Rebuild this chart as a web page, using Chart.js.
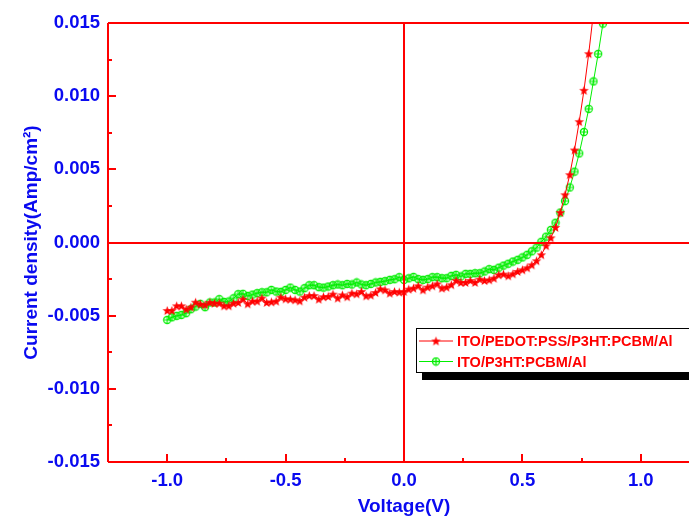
<!DOCTYPE html>
<html>
<head>
<meta charset="utf-8">
<script src="https://cdn.jsdelivr.net/npm/chart.js@4.4.0/dist/chart.umd.min.js"></script>
<style>
  html, body { margin: 0; padding: 0; background: #fff; overflow: hidden; }
  #wrap { width: 689px; height: 520px; overflow: hidden; }
</style>
</head>
<body>
<div id="wrap"><canvas id="c" width="700" height="520"></canvas></div>
<script>
// J-V data (voltage in V, current density in A/cm2)
const voltage = [
  -1.00, -0.98, -0.96, -0.94, -0.92, -0.90, -0.88, -0.86, -0.84, -0.82,
  -0.80, -0.78, -0.76, -0.74, -0.72, -0.70, -0.68, -0.66, -0.64, -0.62,
  -0.60, -0.58, -0.56, -0.54, -0.52, -0.50, -0.48, -0.46, -0.44, -0.42,
  -0.40, -0.38, -0.36, -0.34, -0.32, -0.30, -0.28, -0.26, -0.24, -0.22,
  -0.20, -0.18, -0.16, -0.14, -0.12, -0.10, -0.08, -0.06, -0.04, -0.02,
   0.00,  0.02,  0.04,  0.06,  0.08,  0.10,  0.12,  0.14,  0.16,  0.18,
   0.20,  0.22,  0.24,  0.26,  0.28,  0.30,  0.32,  0.34,  0.36,  0.38,
   0.40,  0.42,  0.44,  0.46,  0.48,  0.50,  0.52,  0.54,  0.56,  0.58,
   0.60,  0.62,  0.64,  0.66,  0.68,  0.70,  0.72,  0.74,  0.76,  0.78,
   0.80,  0.82,  0.84
];

const jPedot = [
  -0.00465, -0.00465, -0.00433, -0.00433, -0.00456, -0.00442, -0.00408, -0.00421, -0.00426, -0.00410,
  -0.00415, -0.00415, -0.00433, -0.00433, -0.00415, -0.00410, -0.00387, -0.00419, -0.00401, -0.00401,
  -0.00380, -0.00410, -0.00406, -0.00401, -0.00374, -0.00385, -0.00387, -0.00392, -0.00399, -0.00374,
  -0.00363, -0.00363, -0.00387, -0.00371, -0.00369, -0.00353, -0.00380, -0.00358, -0.00371, -0.00346,
  -0.00351, -0.00335, -0.00365, -0.00360, -0.00342, -0.00317, -0.00324, -0.00346, -0.00335, -0.00339,
  -0.00335, -0.00319, -0.00312, -0.00296, -0.00324, -0.00305, -0.00296, -0.00283, -0.00312, -0.00305,
  -0.00289, -0.00260, -0.00273, -0.00273, -0.00260, -0.00273, -0.00251, -0.00260, -0.00255, -0.00244,
  -0.00221, -0.00216, -0.00228, -0.00214, -0.00198, -0.00187, -0.00173, -0.00153, -0.00125, -0.00084,
  -0.00022,  0.00032,  0.00103,  0.00205,  0.00326,  0.00463,  0.00632,  0.00826,  0.01040,  0.01290,
   0.01570
];

const jPlain = [
  -0.00529, -0.00511, -0.00501, -0.00495, -0.00483, -0.00456, -0.00438, -0.00419, -0.00442, -0.00410,
  -0.00410, -0.00387, -0.00406, -0.00403, -0.00381, -0.00353, -0.00351, -0.00365, -0.00356, -0.00346,
  -0.00340, -0.00340, -0.00324, -0.00335, -0.00337, -0.00324, -0.00308, -0.00324, -0.00335, -0.00312,
  -0.00292, -0.00292, -0.00305, -0.00308, -0.00301, -0.00292, -0.00287, -0.00292, -0.00283, -0.00287,
  -0.00273, -0.00287, -0.00292, -0.00283, -0.00273, -0.00269, -0.00264, -0.00255, -0.00251, -0.00237,
  -0.00255, -0.00245, -0.00235, -0.00250, -0.00255, -0.00250, -0.00237, -0.00237, -0.00244, -0.00244,
  -0.00228, -0.00221, -0.00232, -0.00214, -0.00214, -0.00210, -0.00210, -0.00198, -0.00182, -0.00187,
  -0.00172, -0.00158, -0.00145, -0.00130, -0.00118, -0.00102, -0.00084, -0.00060, -0.00035,  0.00005,
   0.00040,  0.00086,  0.00135,  0.00205,  0.00283,  0.00376,  0.00484,  0.00609,  0.00755,  0.00913,
   0.01101,  0.01289,  0.01496
];

const seriesLabels = ["ITO/PEDOT:PSS/P3HT:PCBM/Al", "ITO/P3HT:PCBM/Al"];
const xTickValues = [-1.0, -0.5, 0.0, 0.5, 1.0];
const xMinorTicks = [-0.75, -0.25, 0.25, 0.75];
const yTickValues = [-0.015, -0.010, -0.005, 0.000, 0.005, 0.010, 0.015];
const yMinorTicks = [-0.0125, -0.0075, -0.0025, 0.0025, 0.0075, 0.0125];

const red = "#ff0000";
const green = "#00ee00";
const blue = "#0a0af0";
const fontFamily = '"Liberation Sans", Arial, sans-serif';

function starMarker(color) {
  const c = document.createElement("canvas");
  c.width = 11; c.height = 11;
  const g = c.getContext("2d");
  g.fillStyle = color;
  g.beginPath();
  for (let i = 0; i < 10; i++) {
    const r = i % 2 ? 2.1 : 5;
    const a = -Math.PI / 2 + i * Math.PI / 5;
    g.lineTo(5.5 + r * Math.cos(a), 5.9 + r * Math.sin(a));
  }
  g.closePath();
  g.fill();
  return c;
}

function circlePlusMarker(color) {
  const c = document.createElement("canvas");
  c.width = 10; c.height = 10;
  const g = c.getContext("2d");
  g.strokeStyle = color;
  g.lineWidth = 1.2;
  g.beginPath(); g.arc(5, 5, 3.6, 0, Math.PI * 2); g.stroke();
  g.beginPath();
  g.moveTo(1.5, 5); g.lineTo(8.5, 5);
  g.moveTo(5, 1.5); g.lineTo(5, 8.5);
  g.stroke();
  return c;
}

const toPoints = (ys) => ys.map((y, i) => ({ x: voltage[i], y: y }));

// frame, origin lines, inward ticks and the boxed legend
const decor = {
  id: "decor",
  afterDatasetsDraw(chart) {
    const { ctx, chartArea: a, scales: { x, y } } = chart;
    ctx.save();
    ctx.strokeStyle = red;
    ctx.lineWidth = 2;
    const x0 = Math.round(x.getPixelForValue(0));
    const y0 = Math.round(y.getPixelForValue(0));
    ctx.beginPath();
    ctx.moveTo(x0, a.top); ctx.lineTo(x0, a.bottom);
    ctx.moveTo(a.left, y0); ctx.lineTo(a.right, y0);
    ctx.moveTo(a.left, a.top); ctx.lineTo(a.right, a.top);
    ctx.moveTo(a.left, a.top); ctx.lineTo(a.left, a.bottom);
    ctx.moveTo(a.left, a.bottom); ctx.lineTo(a.right, a.bottom);
    xTickValues.forEach(v => {
      const px = Math.round(x.getPixelForValue(v));
      ctx.moveTo(px, a.bottom); ctx.lineTo(px, a.bottom - 8);
    });
    xMinorTicks.forEach(v => {
      const px = Math.round(x.getPixelForValue(v));
      ctx.moveTo(px, a.bottom); ctx.lineTo(px, a.bottom - 4);
    });
    yTickValues.forEach(v => {
      const py = Math.round(y.getPixelForValue(v));
      ctx.moveTo(a.left, py); ctx.lineTo(a.left + 8, py);
    });
    yMinorTicks.forEach(v => {
      const py = Math.round(y.getPixelForValue(v));
      ctx.moveTo(a.left, py); ctx.lineTo(a.left + 4, py);
    });
    ctx.stroke();

    // legend box with drop shadow
    const bx = 416, by = 328, bw = 290, bh = 44;
    ctx.fillStyle = "#000";
    ctx.fillRect(bx + 6, by + bh, bw, 8);
    ctx.fillStyle = "#fff";
    ctx.fillRect(bx, by, bw, bh);
    ctx.strokeStyle = "#000";
    ctx.lineWidth = 1;
    ctx.strokeRect(bx + 0.5, by + 0.5, bw, bh);

    ctx.font = "bold 14.5px " + fontFamily;
    ctx.textBaseline = "middle";
    chart.data.datasets.forEach((ds, i) => {
      const ry = by + 13 + i * 20.5;
      ctx.strokeStyle = ds.borderColor;
      ctx.lineWidth = 1;
      ctx.beginPath();
      ctx.moveTo(bx + 3, ry); ctx.lineTo(bx + 37, ry);
      ctx.stroke();
      const m = ds.pointStyle;
      ctx.drawImage(m, bx + 20 - m.width / 2, ry - m.height / 2);
      ctx.fillStyle = red;
      ctx.fillText(ds.label, bx + 41, ry + 1);
    });
    ctx.restore();
  }
};

Chart.defaults.font.family = fontFamily;

new Chart(document.querySelector("#c").getContext("2d"), {
  type: "line",
  data: {
    datasets: [
      {
        label: seriesLabels[0],
        data: toPoints(jPedot),
        borderColor: red,
        borderWidth: 1,
        pointStyle: starMarker(red),
        tension: 0
      },
      {
        label: seriesLabels[1],
        data: toPoints(jPlain),
        borderColor: green,
        borderWidth: 1,
        pointStyle: circlePlusMarker(green),
        tension: 0
      }
    ]
  },
  options: {
    responsive: false,
    animation: false,
    layout: { autoPadding: false, padding: { top: 23, left: 0, right: 0, bottom: 0 } },
    plugins: { legend: { display: false }, tooltip: { enabled: false } },
    scales: {
      x: {
        type: "linear",
        min: -1.25,
        max: 1.25,
        afterBuildTicks: s => { s.ticks = xTickValues.map(v => ({ value: v })); },
        afterFit: s => { s.height = 58; },
        grid: { display: false, drawTicks: false },
        border: { display: false },
        ticks: {
          padding: 8,
          color: blue,
          autoSkip: false,
          maxRotation: 0,
          font: { size: 18.5, weight: "bold" },
          callback: v => v.toFixed(1)
        },
        title: {
          display: true,
          text: "Voltage(V)",
          color: blue,
          font: { size: 19, weight: "bold" },
          padding: { top: 0, bottom: 2 }
        }
      },
      y: {
        type: "linear",
        min: -0.015,
        max: 0.015,
        afterBuildTicks: s => { s.ticks = yTickValues.map(v => ({ value: v })); },
        afterFit: s => { s.width = 108; },
        grid: { display: false, drawTicks: false },
        border: { display: false },
        ticks: {
          padding: 8,
          color: blue,
          autoSkip: false,
          font: { size: 18.5, weight: "bold" },
          callback: v => (Math.abs(v) < 1e-9 ? 0 : v).toFixed(3)
        },
        title: {
          display: true,
          text: "Current density(Amp/cm²)",
          color: blue,
          font: { size: 19, weight: "bold" },
          padding: { top: 20, bottom: 0 }
        }
      }
    }
  },
  plugins: [decor]
});
</script>
</body>
</html>
